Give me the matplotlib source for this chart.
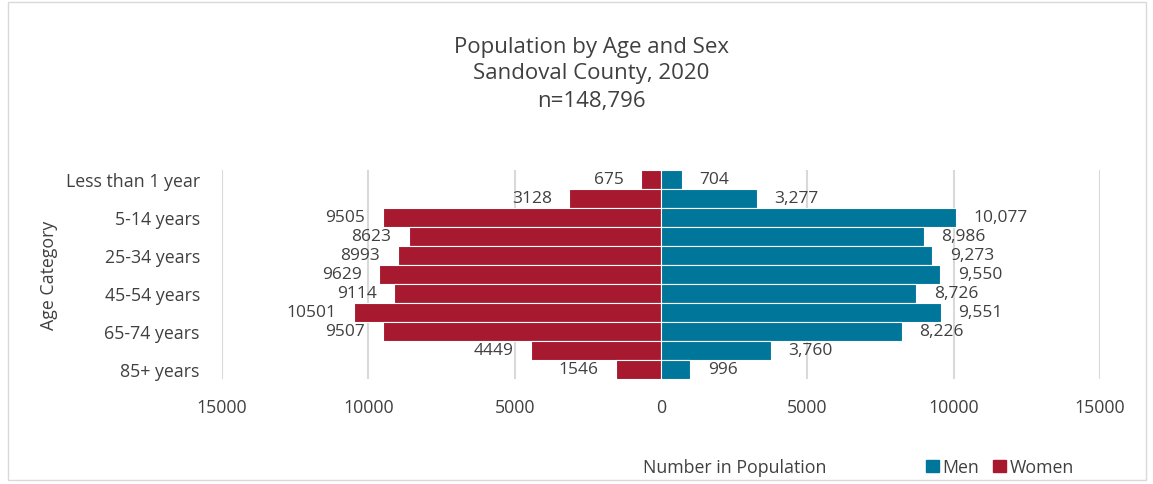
import matplotlib.pyplot as plt
from matplotlib.patches import Rectangle, Patch

plt.rcParams['font.family'] = ['Open Sans', 'DejaVu Sans']

ages = ['Less than 1 year', '1-4 years', '5-14 years', '15-24 years', '25-34 years',
        '35-44 years', '45-54 years', '55-64 years', '65-74 years', '75-84 years',
        '85+ years']
women = [675, 3128, 9505, 8623, 8993, 9629, 9114, 10501, 9507, 4449, 1546]
men = [704, 3277, 10077, 8986, 9273, 9550, 8726, 9551, 8226, 3760, 996]
xticks = [-15000, -10000, -5000, 0, 5000, 10000, 15000]

red = '#A6192E'
blue = '#00769A'
txt = '#404040'

fig = plt.figure(figsize=(11.53, 4.85), dpi=100)
ax = fig.add_axes([222 / 1153, 1 - 380 / 485, 878 / 1153, 209 / 485])

y = list(range(len(ages)))
ax.barh(y, [-w for w in women], height=1.0, color=red, edgecolor='white', linewidth=0.8, zorder=3)
ax.barh(y, men, height=1.0, color=blue, edgecolor='white', linewidth=0.8, zorder=3)

for i in y:
    ax.text(-women[i] - 600, i, str(women[i]), ha='right', va='center', fontsize=12.5, color=txt, zorder=4)
    ax.text(men[i] + 600, i, f'{men[i]:,}', ha='left', va='center', fontsize=12.5, color=txt, zorder=4)

ax.set_xlim(-15000, 15000)
ax.set_ylim(len(ages) - 0.5, -0.5)
ax.set_xticks(xticks)
ax.set_xticklabels([str(abs(t)) for t in xticks])
ax.set_yticks(y[::2])
ax.set_yticklabels(ages[::2])
ax.tick_params(axis='both', length=0, labelsize=12.8, colors=txt)
ax.tick_params(axis='x', pad=14)
ax.tick_params(axis='y', pad=16)
ax.grid(axis='x', color='#D9D9D9', linewidth=1.5, zorder=0)
for s in ax.spines.values():
    s.set_visible(False)
ax.axvline(0, color='#D9D9D9', linewidth=1.5, zorder=2)

ax.set_ylabel('Age Category', fontsize=12.8, color=txt)
ax.yaxis.set_label_coords(-164 / 878, 0.5)

fig.text(591 / 1153, 1 - 47 / 485, 'Population by Age and Sex', ha='center', va='center', fontsize=16, color=txt)
fig.text(591 / 1153, 1 - 74 / 485, 'Sandoval County, 2020', ha='center', va='center', fontsize=16, color=txt)
fig.text(591 / 1153, 1 - 101 / 485, 'n=148,796', ha='center', va='center', fontsize=16, color=txt)

fig.text(735 / 1153, 1 - 468 / 485, 'Number in Population', ha='center', va='center', fontsize=12.8, color=txt)

handles = [Patch(color=blue, label='Men'), Patch(color=red, label='Women')]
fig.legend(handles=handles, loc='center', bbox_to_anchor=(1000 / 1153, 1 - 468 / 485), ncol=2,
           frameon=False, fontsize=12.8, handlelength=0.7, handleheight=0.7, handletextpad=0.2,
           columnspacing=0.8, labelcolor=txt)

fig.patches.append(Rectangle((8 / 1153, 4 / 485), 1138 / 1153, 478 / 485, transform=fig.transFigure,
                             fill=False, edgecolor='#D9D9D9', linewidth=1))

fig.savefig('out.png', dpi=100)
